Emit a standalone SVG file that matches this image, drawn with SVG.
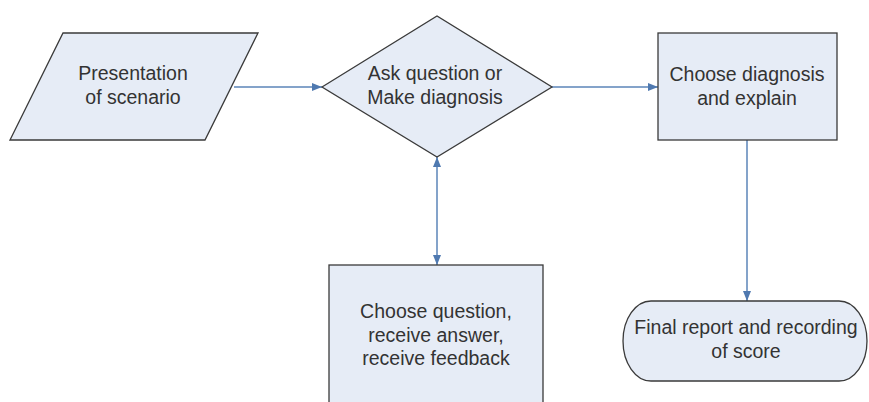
<svg xmlns="http://www.w3.org/2000/svg" width="869" height="402" viewBox="0 0 869 402">
<defs>
<marker id="arr" viewBox="0 0 10 8" refX="10" refY="4" markerWidth="10" markerHeight="8" markerUnits="userSpaceOnUse" orient="auto-start-reverse">
<path d="M0,0 L10,4 L0,8 Z" fill="#4f79b0"/>
</marker>
</defs>
<style>
.shape{fill:#e6ecf6;stroke:#3a3a3a;stroke-width:1.3}
.conn{fill:none;stroke:#5b84b8;stroke-width:1.5}
text{font-family:"Liberation Sans",Arial,sans-serif;font-size:19.5px;fill:#333333;text-anchor:middle}
</style>
<rect width="869" height="402" fill="#ffffff"/>
<g id="connectors">
<line class="conn" x1="234" y1="87" x2="322" y2="87" marker-end="url(#arr)"/>
<line class="conn" x1="552" y1="87" x2="658" y2="87" marker-end="url(#arr)"/>
<line class="conn" x1="437" y1="157" x2="437" y2="265" marker-start="url(#arr)" marker-end="url(#arr)"/>
<line class="conn" x1="747" y1="140" x2="747" y2="301" marker-end="url(#arr)"/>
</g>
<g id="presentation">
<polygon class="shape" points="63,33 258,33 205,140 10,140"/>
<text x="133" y="80">Presentation</text>
<text x="133" y="104">of scenario</text>
</g>
<g id="decision">
<polygon class="shape" points="322,87 437,16 552,87 437,157"/>
<text x="435" y="80">Ask question or</text>
<text x="435" y="104">Make diagnosis</text>
</g>
<g id="diagnosis">
<rect class="shape" x="658" y="33" width="179" height="107"/>
<text x="747" y="81">Choose diagnosis</text>
<text x="747" y="105">and explain</text>
</g>
<g id="question">
<rect class="shape" x="329" y="265" width="214" height="150"/>
<text x="436" y="318">Choose question,</text>
<text x="436" y="342">receive answer,</text>
<text x="436" y="365">receive feedback</text>
</g>
<g id="final">
<rect class="shape" x="623" y="301" width="244" height="80" rx="28" ry="40"/>
<text x="746" y="334">Final report and recording</text>
<text x="746" y="358">of score</text>
</g>
</svg>
